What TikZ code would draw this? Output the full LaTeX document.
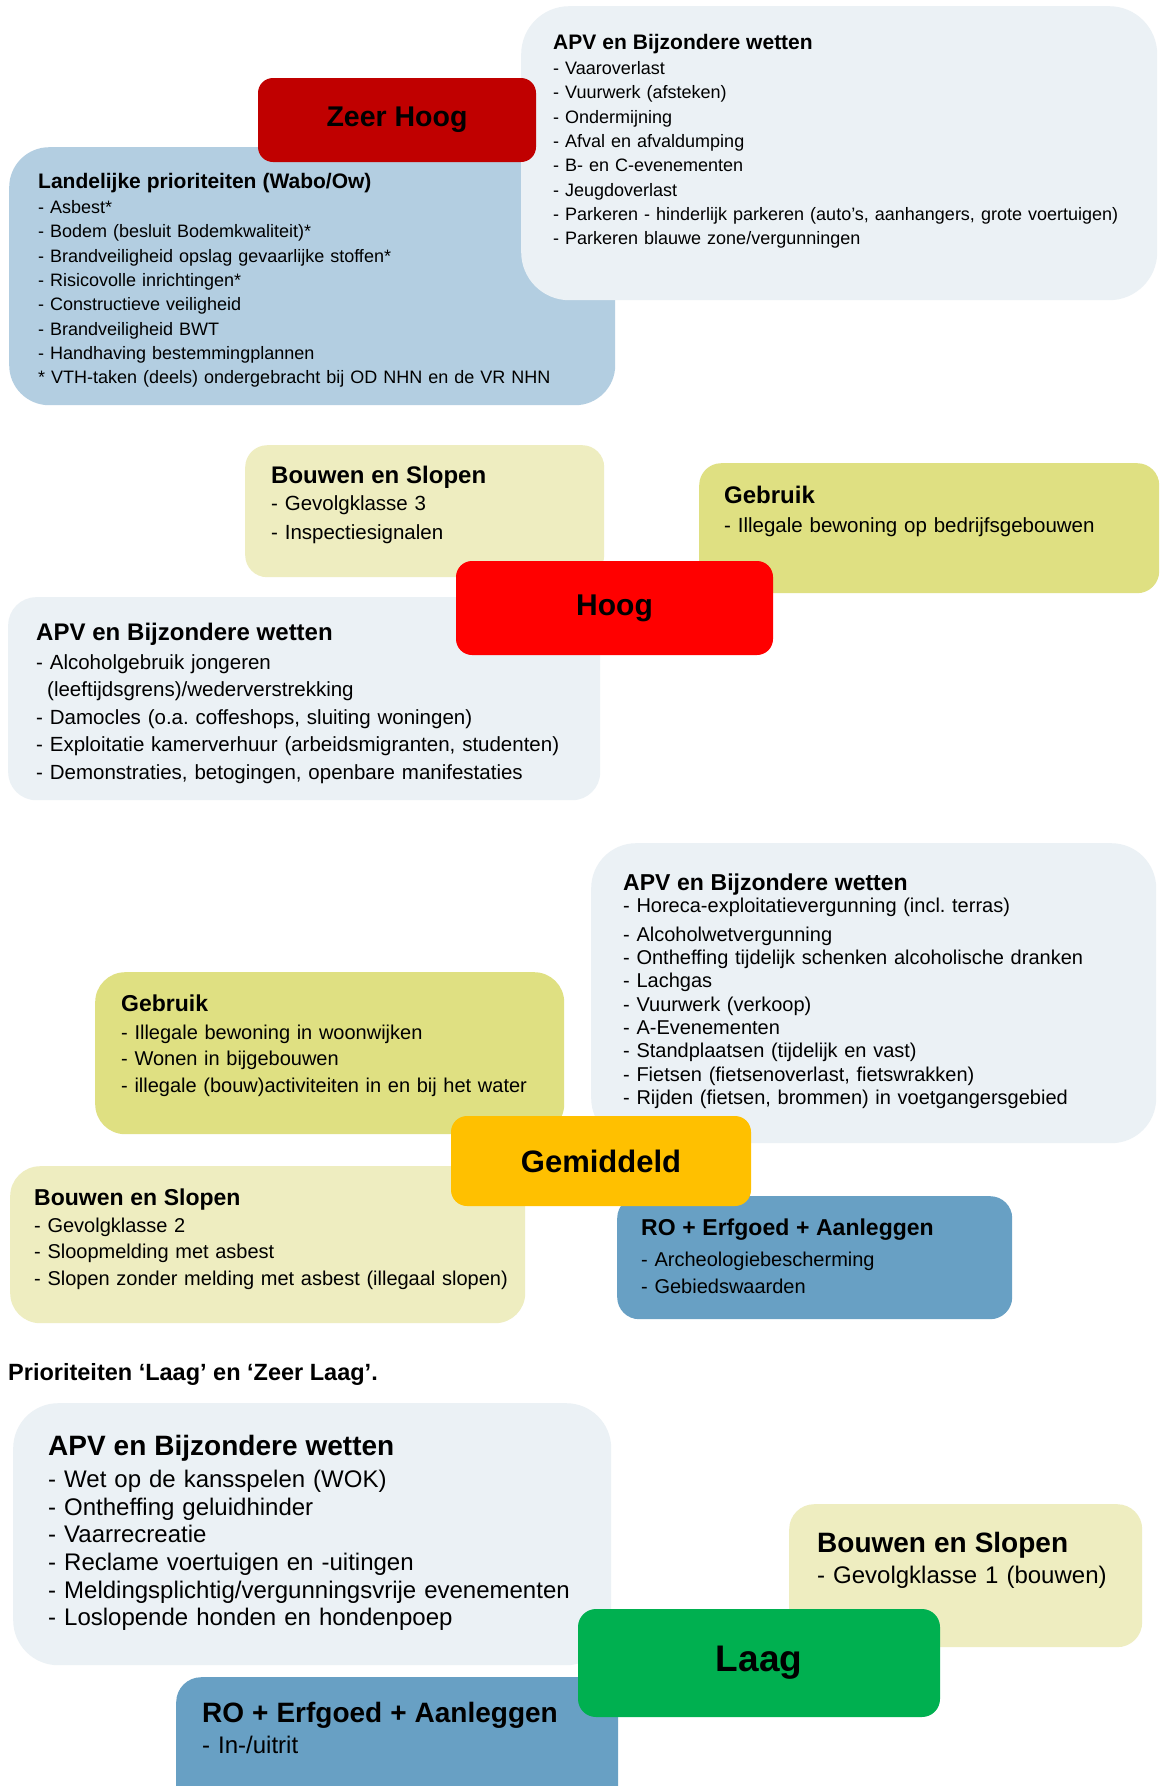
\documentclass[tikz,border=0pt]{standalone}
\usepackage{fontspec}
\setmainfont{Liberation Sans}
\usetikzlibrary{positioning}
\usepackage{xcolor}
\frenchspacing

\definecolor{lightpanel}{HTML}{EBF1F5}
\definecolor{landblue}{HTML}{B3CEE1}
\definecolor{straw}{HTML}{EEEDC0}
\definecolor{lime}{HTML}{DFE082}
\definecolor{steel}{HTML}{68A0C4}
\definecolor{zeerhoogred}{HTML}{C00000}
\definecolor{hoogred}{HTML}{FF0000}
\definecolor{gemorange}{HTML}{FFC000}
\definecolor{laaggreen}{HTML}{00B050}

\newcommand\paneltitle[2]{{\fontsize{#1}{#1}\selectfont\bfseries #2}}

\begin{document}
\begin{tikzpicture}[
				x=1pt,y=-1pt,
				panel/.style={rectangle,inner sep=0pt,anchor=north west},
				level/.style={rectangle,inner sep=0pt,rounded corners=16pt,font=\bfseries},
				listing/.style={anchor=base west,inner sep=0pt,align=left,text width=640pt}
				]
				
				\path[use as bounding box,fill=white] (0,0) rectangle (1165,1786);
				
				\node[panel,fill=landblue,rounded corners=40pt,minimum width=606pt,minimum height=258pt] (zhland) at (9,147) {};
				\node[panel,fill=lightpanel,rounded corners=48pt,minimum width=636pt,minimum height=294pt] (zhapv) at (521,6) {};
				\node[level,fill=zeerhoogred,rounded corners=15pt,minimum width=278pt,minimum height=84pt,font=\bfseries\fontsize{28.5}{30}\selectfont] (zeerhoog) at (397,120) {Zeer Hoog};
				
				\node[listing,font=\fontsize{18}{24.3}\selectfont] (zhlandtxt) at (38,188.5) {\paneltitle{21}{Landelijke prioriteiten (Wabo/Ow)}\\[0.7pt]
					- Asbest*\\ - Bodem (besluit Bodemkwaliteit)*\\ - Brandveiligheid opslag gevaarlijke stoffen*\\ - Risicovolle inrichtingen*\\
					- Constructieve veiligheid\\ - Brandveiligheid BWT\\ - Handhaving bestemmingplannen\\{}* VTH-taken (deels) ondergebracht bij OD NHN en de VR NHN};
				\node[listing,font=\fontsize{18}{24.3}\selectfont] (zhapvtxt) at (553,49.5) {\paneltitle{21}{APV en Bijzondere wetten}\\[0.7pt]
					- Vaaroverlast\\ - Vuurwerk (afsteken)\\ - Ondermijning\\ - Afval en afvaldumping\\ - B- en C-evenementen\\ - Jeugdoverlast\\
					- Parkeren - hinderlijk parkeren (auto's, aanhangers, grote voertuigen)\\ - Parkeren blauwe zone/vergunningen};
				
				\node[panel,fill=straw,rounded corners=22pt,minimum width=359pt,minimum height=132pt] (hbouw) at (245,445) {};
				\node[panel,fill=lime,rounded corners=22pt,minimum width=460pt,minimum height=130pt] (hgebr) at (699,463) {};
				\node[panel,fill=lightpanel,rounded corners=28pt,minimum width=592pt,minimum height=203pt] (hapv) at (8,597) {};
				\node[level,fill=hoogred,minimum width=317pt,minimum height=94pt,font=\bfseries\fontsize{30}{32}\selectfont] (hoog) at (614.5,608) {Hoog};
				
				\node[listing,font=\fontsize{20.5}{29}\selectfont] (hbouwtxt) at (271,483) {\paneltitle{24}{Bouwen en Slopen}\\[-2pt]
					- Gevolgklasse 3\\ - Inspectiesignalen};
				\node[listing,font=\fontsize{20.5}{29}\selectfont] (hgebrtxt) at (724,503) {\paneltitle{24}{Gebruik}\\
					- Illegale bewoning op bedrijfsgebouwen};
				\node[listing,font=\fontsize{20.5}{27.5}\selectfont] (hapvtxt) at (36,640) {\paneltitle{24}{APV en Bijzondere wetten}\\[1.5pt]
					- Alcoholgebruik jongeren\\ \hspace*{11pt}(leeftijdsgrens)/wederverstrekking\\ - Damocles (o.a. coffeshops, sluiting woningen)\\
					- Exploitatie kamerverhuur (arbeidsmigranten, studenten)\\ - Demonstraties, betogingen, openbare manifestaties};
				
				\node[panel,fill=lightpanel,rounded corners=45pt,minimum width=565pt,minimum height=300pt] (gapv) at (591,843) {};
				\node[panel,fill=lime,rounded corners=30pt,minimum width=469pt,minimum height=162pt] (ggebr) at (95,972) {};
				\node[panel,fill=straw,rounded corners=30pt,minimum width=515pt,minimum height=157pt] (gbouw) at (10,1166) {};
				\node[panel,fill=steel,rounded corners=22pt,minimum width=395pt,minimum height=123pt] (gro) at (617,1196) {};
				\node[level,fill=gemorange,minimum width=300pt,minimum height=90pt,font=\bfseries\fontsize{31}{33}\selectfont] (gemiddeld) at (601,1161) {Gemiddeld};
				
				\node[listing,font=\fontsize{20}{23.3}\selectfont] (gapvtxt) at (623,890) {\paneltitle{23}{APV en Bijzondere wetten}\\[-1.3pt]
					- Horeca-exploitatievergunning (incl. terras)\\[6pt] - Alcoholwetvergunning\\ - Ontheffing tijdelijk schenken alcoholische dranken\\
					- Lachgas\\ - Vuurwerk (verkoop)\\ - A-Evenementen\\ - Standplaatsen (tijdelijk en vast)\\ - Fietsen (fietsenoverlast, fietswrakken)\\
					- Rijden (fietsen, brommen) in voetgangersgebied};
				\node[listing,font=\fontsize{20}{26.5}\selectfont] (ggebrtxt) at (121,1011) {\paneltitle{23}{Gebruik}\\[1.5pt]
					- Illegale bewoning in woonwijken\\ - Wonen in bijgebouwen\\ - illegale (bouw)activiteiten in en bij het water};
				\node[listing,font=\fontsize{20}{26.5}\selectfont] (gbouwtxt) at (34,1205) {\paneltitle{23}{Bouwen en Slopen}\\[0.5pt]
					- Gevolgklasse 2\\ - Sloopmelding met asbest\\ - Slopen zonder melding met asbest (illegaal slopen)};
				\node[listing,font=\fontsize{20}{27}\selectfont] (grotxt) at (641,1235) {\paneltitle{23}{RO + Erfgoed + Aanleggen}\\[4pt]
					- Archeologiebescherming\\ - Gebiedswaarden};
				
				\node[anchor=base west,inner sep=0pt,font=\bfseries\fontsize{23.5}{25}\selectfont] (laagheading) at (8,1380) {Prioriteiten ‘Laag’ en ‘Zeer Laag’.};
				
				\node[panel,fill=lightpanel,rounded corners=45pt,minimum width=598pt,minimum height=262pt] (lapv) at (13,1403) {};
				\node[panel,fill=straw,rounded corners=25pt,minimum width=353pt,minimum height=143pt] (lbouw) at (789,1504) {};
				\node[panel,fill=steel,rounded corners=25pt,minimum width=442pt,minimum height=140pt] (lro) at (176,1677) {};
				\node[level,fill=laaggreen,rounded corners=18pt,minimum width=362pt,minimum height=108pt,font=\bfseries\fontsize{37}{39}\selectfont] (laag) at (759,1663) {Laag};
				
				\node[listing,font=\fontsize{24}{27.6}\selectfont] (lapvtxt) at (48,1455) {\paneltitle{28}{APV en Bijzondere wetten}\\[5pt]
					- Wet op de kansspelen (WOK)\\ - Ontheffing geluidhinder\\ - Vaarrecreatie\\ - Reclame voertuigen en -uitingen\\
					- Meldingsplichtig/vergunningsvrije evenementen\\ - Loslopende honden en hondenpoep};
				\node[listing,font=\fontsize{24}{27.6}\selectfont] (lbouwtxt) at (817,1552) {\paneltitle{28}{Bouwen en Slopen}\\[4pt]
					- Gevolgklasse 1 (bouwen)};
				\node[listing,font=\fontsize{24}{27.6}\selectfont] (lrotxt) at (202,1722) {\paneltitle{28}{RO + Erfgoed + Aanleggen}\\[4pt]
					- In-/uitrit};
				
			\end{tikzpicture}
\end{document}
